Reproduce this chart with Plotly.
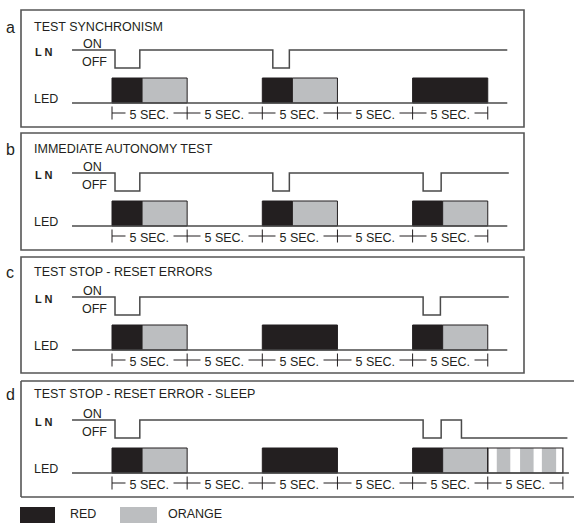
import plotly.graph_objects as go

# ------------------------------------------------------------------ data
panel_labels = ["a", "b", "c", "d"]
panel_titles = ["TEST SYNCHRONISM", "IMMEDIATE AUTONOMY TEST",
                "TEST STOP - RESET ERRORS", "TEST STOP - RESET ERROR - SLEEP"]

# LN signal: time (s) of each change and the state from that time on (1 = ON, 0 = OFF)
ln_times_a = [-2.66, 0.2, 1.85, 10.7, 11.8, 26.3]
ln_states_a = [1, 0, 1, 0, 1, 1]
ln_times_b = [-2.66, 0.2, 1.85, 10.7, 11.8, 20.7, 21.9, 26.4]
ln_states_b = [1, 0, 1, 0, 1, 0, 1, 1]
ln_times_c = [-2.66, 0.2, 1.85, 20.7, 21.85, 26.4]
ln_states_c = [1, 0, 1, 0, 1, 1]
ln_times_d = [-2.66, 0.2, 1.85, 20.7, 21.9, 23.25, 30.3]
ln_states_d = [1, 0, 1, 0, 1, 0, 0]

# LED segments (seconds) and colour
led_start_a = [0, 2, 10, 12, 20]
led_end_a = [2, 5, 12, 15, 25]
led_color_a = ["RED", "ORANGE", "RED", "ORANGE", "RED"]
led_start_b = [0, 2, 10, 12, 20, 22]
led_end_b = [2, 5, 12, 15, 22, 25]
led_color_b = ["RED", "ORANGE", "RED", "ORANGE", "RED", "ORANGE"]
led_start_c = [0, 2, 10, 20, 22]
led_end_c = [2, 5, 15, 22, 25]
led_color_c = ["RED", "ORANGE", "RED", "RED", "ORANGE"]
led_start_d = [0, 2, 10, 20, 22]
led_end_d = [2, 5, 15, 22, 25]
led_color_d = ["RED", "ORANGE", "RED", "RED", "ORANGE"]
led_line_start = -2.66
led_line_end = [26.3, 26.3, 26.3, 30.4]

# blinking orange phase (panel d)
blink_start_d = 25
blink_end_d = 30
blink_on_start_d = [25.6, 27.15, 28.6]
blink_on_end_d = [26.5, 28.05, 29.55]

# time scale marks (s)
sec_ticks_abc = [0, 5, 10, 15, 20, 25]
sec_ticks_d = [0, 5, 10, 15, 20, 25, 30]
sec_label = "5 SEC."
legend_names = ["RED", "ORANGE"]

# ------------------------------------------------------------------ style
W, H = 574, 523
X0, PX_PER_S = 112, 15.03          # pixel of t=0, pixels per second
def t_of(px):                        # layout helper: pixel -> axis seconds
    return (px - X0) / PX_PER_S

COL = {"RED": "#231f20", "ORANGE": "#bcbec0"}
LINE = "#4a4a4a"
TXT = "#231f20"
FONT = "Liberation Sans Narrow, Arial Narrow, Liberation Sans, Arial, sans-serif"

offsets = [0, 123, 247, 370]
box_top = [10, 133, 257, 381]
box_bot = [127, 250, 373, 497]
title_y = [27, 149, 272, 394]
box_right = [524, 524, 524, None]
Y_HIGH, Y_LOW, Y_LEDTOP, Y_LEDBASE, Y_DIM = 50, 68, 78, 103, 113

ln_times = [ln_times_a, ln_times_b, ln_times_c, ln_times_d]
ln_states = [ln_states_a, ln_states_b, ln_states_c, ln_states_d]
led_starts = [led_start_a, led_start_b, led_start_c, led_start_d]
led_ends = [led_end_a, led_end_b, led_end_c, led_end_d]
led_colors = [led_color_a, led_color_b, led_color_c, led_color_d]
sec_ticks = [sec_ticks_abc, sec_ticks_abc, sec_ticks_abc, sec_ticks_d]

fig = go.Figure()
shapes, annos = [], []
FRAME = dict(color="#555555", width=1.6)

for i in range(4):
    off = offsets[i]
    # panel frame
    left = t_of(21)
    if box_right[i]:
        shapes.append(dict(type="rect", xref="x", yref="y", x0=left, x1=t_of(box_right[i]),
                           y0=box_top[i], y1=box_bot[i], line=FRAME))
    else:
        right = t_of(600)
        for yy in (box_top[i], box_bot[i]):
            shapes.append(dict(type="line", xref="x", yref="y", x0=left, x1=right,
                               y0=yy, y1=yy, line=FRAME))
        shapes.append(dict(type="line", xref="x", yref="y", x0=left, x1=left,
                           y0=box_top[i], y1=box_bot[i], line=FRAME))

    # LN signal
    ys = [off + (Y_HIGH if s else Y_LOW) for s in ln_states[i]]
    fig.add_trace(go.Scatter(x=ln_times[i], y=ys, mode="lines", line_shape="hv",
                             line=dict(color=LINE, width=1.5), hoverinfo="skip"))
    # LED base line
    fig.add_trace(go.Scatter(x=[led_line_start, led_line_end[i]],
                             y=[off + Y_LEDBASE] * 2, mode="lines",
                             line=dict(color=LINE, width=1.5), hoverinfo="skip"))
    # LED blocks
    for s, e, c in zip(led_starts[i], led_ends[i], led_colors[i]):
        fig.add_trace(go.Bar(x=[(s + e) / 2], width=[e - s], base=[off + Y_LEDBASE],
                             y=[-(Y_LEDBASE - Y_LEDTOP)], marker=dict(color=COL[c],
                             line=dict(color=TXT, width=1)), hoverinfo="skip"))
    if i == 3:
        for s, e in zip(blink_on_start_d, blink_on_end_d):
            fig.add_trace(go.Bar(x=[(s + e) / 2], width=[e - s], base=[off + Y_LEDBASE],
                                 y=[-(Y_LEDBASE - Y_LEDTOP)],
                                 marker=dict(color=COL["ORANGE"], line=dict(width=0)),
                                 hoverinfo="skip"))
        fig.add_trace(go.Bar(x=[(blink_start_d + blink_end_d) / 2],
                             width=[blink_end_d - blink_start_d], base=[off + Y_LEDBASE],
                             y=[-(Y_LEDBASE - Y_LEDTOP)],
                             marker=dict(color="rgba(0,0,0,0)", line=dict(color=TXT, width=1.2)),
                             hoverinfo="skip"))

    # time scale
    tk = sec_ticks[i]
    fig.add_trace(go.Scatter(x=[tk[0], tk[-1]], y=[off + Y_DIM] * 2, mode="lines",
                             line=dict(color=TXT, width=1), hoverinfo="skip"))
    tx, ty = [], []
    for t in tk:
        tx += [t, t, None]
        ty += [off + Y_DIM - 6.5, off + Y_DIM + 6.5, None]
    fig.add_trace(go.Scatter(x=tx, y=ty, mode="lines", line=dict(color=TXT, width=1),
                             hoverinfo="skip"))
    for a, b in zip(tk[:-1], tk[1:]):
        annos.append(dict(x=(a + b) / 2, y=off + Y_DIM + 1.5, xref="x", yref="y",
                          text=" " + sec_label + " ", showarrow=False, bgcolor="white",
                          borderpad=0, font=dict(family=FONT, size=12.5, color=TXT)))

    # texts
    annos.append(dict(x=t_of(10), y=title_y[i], xref="x", yref="y", text=panel_labels[i],
                      showarrow=False, font=dict(family="Liberation Sans, Arial", size=16, color=TXT)))
    annos.append(dict(x=t_of(32), y=title_y[i], xref="x", yref="y", text=panel_titles[i],
                      xanchor="left", showarrow=False,
                      font=dict(family=FONT, size=12.5, color=TXT)))
    annos.append(dict(x=t_of(44), y=off + 52, xref="x", yref="y", text="<b>L N</b>",
                      showarrow=False, font=dict(family=FONT, size=11, color=TXT)))
    annos.append(dict(x=t_of(92), y=off + 44, xref="x", yref="y", text="ON",
                      showarrow=False, font=dict(family=FONT, size=12.5, color=TXT)))
    annos.append(dict(x=t_of(94), y=off + 62, xref="x", yref="y", text="OFF",
                      showarrow=False, font=dict(family=FONT, size=12.5, color=TXT)))
    annos.append(dict(x=t_of(46), y=off + 98.5, xref="x", yref="y", text="LED",
                      showarrow=False, font=dict(family=FONT, size=12.5, color=TXT)))

# legend
for name, x0, x1, tx in zip(legend_names, [20, 120], [55, 157], [68, 166]):
    shapes.append(dict(type="rect", xref="x", yref="y", x0=t_of(x0), x1=t_of(x1),
                       y0=507, y1=524, fillcolor=COL[name], line=dict(width=0)))
    annos.append(dict(x=t_of(tx), y=514, xref="x", yref="y", text=name, xanchor="left",
                      showarrow=False, font=dict(family=FONT, size=12.5, color=TXT)))

fig.update_layout(
    width=W, height=H, margin=dict(l=0, r=0, t=0, b=0),
    paper_bgcolor="white", plot_bgcolor="white", showlegend=False,
    barmode="overlay", shapes=shapes, annotations=annos,
    xaxis=dict(range=[t_of(0), t_of(W)], visible=False, fixedrange=True),
    yaxis=dict(range=[H, 0], visible=False, fixedrange=True),
)
fig.write_html("out.html", config={"displayModeBar": False},
               post_script="document.body.style.margin='0px';document.body.style.overflow='hidden';")
